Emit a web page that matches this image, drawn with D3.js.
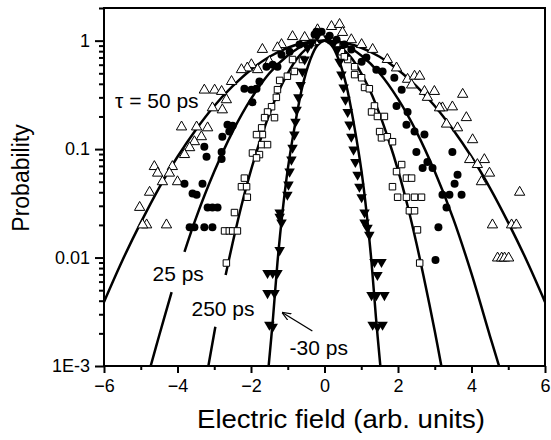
<!DOCTYPE html>
<html>
<head>
<meta charset="utf-8">
<script src="https://cdn.jsdelivr.net/npm/d3@7"></script>
<style>
  body { margin: 0; background: #fff; }
  svg { display: block; font-family: "Liberation Sans", Arial, sans-serif; }
</style>
</head>
<body>
<div id="chart"></div>
<script>
// measured points [field, probability]
const tau50 = [
  [-0.87,1.09],[-1.17,0.92],[-1.28,0.86],[-1.69,0.83],[-1.99,0.60],[-2.10,0.56],[-2.26,0.54],[-2.53,0.42],
  [-1.82,0.54],[-1.50,0.64],[-3.27,0.35],[-2.99,0.35],[-2.80,0.34],[-2.67,0.285],[-3.05,0.24],[-2.78,0.23],
  [-3.89,0.16],[-3.48,0.16],[-3.18,0.157],[-3.35,0.13],[-3.54,0.117],[-3.67,0.103],[-3.81,0.089],
  [-4.63,0.069],[-4.54,0.060],[-4.14,0.069],[-4.22,0.060],[-4.41,0.050],[-4.00,0.050],[-4.76,0.040],
  [-5.03,0.029],[-4.84,0.020],[-4.30,0.020],[-4.95,0.020],
  [0.19,1.35],[0.41,1.41],[0.49,1.19],[1.31,0.83],[1.71,0.67],[1.96,0.56],[2.26,0.44],[2.45,0.47],
  [2.59,0.47],[2.37,0.39],[2.72,0.34],[2.99,0.34],[2.80,0.30],[3.76,0.32],[3.21,0.24],[3.48,0.245],
  [3.13,0.24],[3.86,0.195],[3.32,0.17],[3.62,0.157],[4.03,0.122],[3.95,0.080],[4.35,0.080],[4.16,0.072],
  [4.49,0.060],[4.27,0.050],[5.31,0.040],[4.57,0.020],[5.09,0.020],[5.22,0.020],
  [4.71,0.0099],[4.82,0.0099],[4.90,0.0099],[5.01,0.0099],
  [-0.54,1.07],[-0.27,0.98],[0.73,1.02],[1.01,0.92],[-0.19,1.26]
];
const tau25 = [
  [-1.41,0.60],[-1.28,0.575],[-1.58,0.575],[-1.77,0.42],[-2.18,0.36],[-1.99,0.353],[-1.85,0.36],[-1.96,0.27],
  [-2.64,0.168],[-2.50,0.164],[-2.59,0.145],[-2.78,0.13],[-2.80,0.094],[-3.27,0.105],[-3.21,0.085],[-2.80,0.081],
  [-3.81,0.048],[-3.32,0.048],[-3.59,0.039],[-3.48,0.038],[-3.18,0.029],[-3.05,0.029],[-2.91,0.029],
  [-3.67,0.019],[-3.54,0.019],[-3.27,0.019],[-3.05,0.019],
  [-0.22,1.21],[1.01,0.64],[1.14,0.70],[1.41,0.54],[1.58,0.52],[1.90,0.455],[1.96,0.25],[2.10,0.353],
  [2.26,0.22],[2.23,0.168],[2.45,0.145],[2.72,0.136],[2.50,0.094],[3.48,0.094],[2.80,0.076],[2.67,0.067],
  [2.94,0.067],[3.62,0.058],[3.54,0.048],[3.21,0.038],[3.40,0.038],[3.73,0.038],[3.32,0.029],[3.10,0.019],
  [3.02,0.0095],
  [-0.27,1.14],[-0.08,1.21],[0.14,1.11],[0.33,1.02],[0.54,0.92],[0.73,0.83],[-0.68,0.92],[-0.95,0.79],[-1.17,0.74]
];
const tau250 = [
  [-0.87,0.67],[-0.82,0.52],[-1.01,0.47],[-1.22,0.43],[-1.28,0.353],[-1.31,0.30],[-1.44,0.246],[-1.55,0.22],
  [-1.63,0.195],[-1.36,0.195],[-1.71,0.157],[-1.69,0.136],[-1.85,0.136],[-1.71,0.110],[-1.55,0.110],
  [-1.96,0.092],[-1.77,0.089],[-1.85,0.083],[-2.18,0.054],[-2.26,0.045],[-2.12,0.045],[-2.10,0.036],
  [-2.45,0.026],[-2.72,0.0176],[-2.59,0.0176],[-2.50,0.0176],[-2.37,0.0176],[-2.67,0.0089],
  [-0.60,0.67],[0.63,0.67],[0.82,0.575],[0.82,0.486],[1.01,0.455],[1.09,0.37],[1.22,0.36],[1.36,0.25],
  [1.28,0.22],[1.44,0.20],[1.63,0.20],[1.50,0.145],[1.55,0.127],[1.71,0.13],[1.85,0.117],[2.10,0.072],
  [1.96,0.062],[2.23,0.054],[2.37,0.054],[1.85,0.045],[1.99,0.036],[2.23,0.036],[2.45,0.036],[2.64,0.036],
  [2.31,0.027],[2.45,0.027],[2.53,0.018],[2.59,0.0089],
  [-0.33,0.96],[0.33,0.94],[0.46,0.79],[0.54,0.71]
];
const tauMinus30 = [
  [-0.46,0.86],[-0.54,0.67],[-0.60,0.52],[-0.65,0.39],[-0.71,0.30],[-0.76,0.23],[-0.79,0.179],[-0.82,0.136],
  [-0.87,0.103],[-0.90,0.080],[-0.95,0.062],[-0.98,0.047],[-1.01,0.038],[-1.22,0.026],[-1.22,0.0237],
  [-1.17,0.021],[-1.22,0.0117],[-1.55,0.0072],[-1.41,0.0072],[-1.28,0.0072],[-1.55,0.0047],[-1.36,0.0047],
  [-1.50,0.0024],[-1.41,0.0023],
  [0.35,0.83],[0.41,0.64],[0.46,0.486],[0.52,0.37],[0.57,0.285],[0.63,0.22],[0.68,0.168],[0.73,0.13],
  [0.79,0.099],[0.84,0.076],[0.90,0.058],[0.95,0.045],[1.01,0.036],[1.09,0.026],[1.09,0.021],[1.17,0.0188],
  [1.22,0.0162],[1.36,0.0091],[1.55,0.0091],[1.44,0.0069],[1.28,0.0045],[1.41,0.0045],[1.63,0.0045],
  [1.31,0.0024],[1.44,0.0023],[1.58,0.0024],
  [-0.2,1.1],[0.1,1.05],[0.25,0.95],[-0.35,0.95]
];

// fitted curves, null = gap left for a label
const fit50 = [[-6,0.0039],[-5.5,0.0094],[-5,0.021],[-4.5,0.044],[-4,0.085],[-3.5,0.151],[-3,0.25],[-2.5,0.38],
  [-2,0.54],[-1.5,0.71],[-1,0.86],[-0.5,0.96],[0,1],[0.5,0.96],[1,0.86],[1.5,0.71],[2,0.54],[2.5,0.38],
  [3,0.25],[3.5,0.151],[4,0.085],[4.5,0.044],[5,0.021],[5.5,0.0094],[6,0.0039]];
const fit25 = [[-4.73,0.001],[-4.5,0.0019],[-4.16,0.0048],null,[-3.81,0.0113],[-3.5,0.023],[-3,0.062],[-2.5,0.145],
  [-2,0.29],[-1.5,0.5],[-1,0.73],[-0.5,0.93],[0,1],[0.5,0.93],[1,0.73],[1.5,0.5],[2,0.29],[2.5,0.145],
  [3,0.062],[3.5,0.023],[4,0.0071],[4.5,0.0019],[4.75,0.001]];
const fit250 = [[-3.16,0.001],[-2.97,0.0023],null,[-2.69,0.0069],[-2.5,0.0136],[-2.25,0.031],[-2,0.064],[-1.75,0.12],
  [-1.5,0.21],[-1.25,0.34],[-1,0.5],[-0.75,0.68],[-0.5,0.84],[-0.25,0.96],[0,1],[0.25,0.96],[0.5,0.84],
  [0.75,0.68],[1,0.5],[1.25,0.34],[1.5,0.21],[1.75,0.12],[2,0.064],[2.25,0.031],[2.5,0.0136],[2.75,0.0055],
  [3,0.0021],[3.18,0.001]];
const fitMinus30 = [[-1.52,0.001],[-1.4,0.0028],[-1.28,0.009],[-1.15,0.025],[-1,0.065],[-0.8,0.17],[-0.6,0.38],
  [-0.4,0.65],[-0.2,0.9],[0,1],[0.2,0.9],[0.4,0.65],[0.6,0.38],[0.8,0.17],[1,0.065],[1.15,0.025],[1.28,0.009],
  [1.4,0.0028],[1.52,0.001]];

const xMajor = [-6, -4, -2, 0, 2, 4, 6];
const xMinor = [-5, -3, -1, 1, 3, 5];
const yMajor = [0.001, 0.01, 0.1, 1];
const yMajorLabels = ["1E-3", "0.01", "0.1", "1"];

const width = 551, height = 440;
const mLeft = 104, mRight = 545, mTop = 8, mBottom = 366;

const svg = d3.select("#chart").append("svg")
  .attr("width", width).attr("height", height);

const x = d3.scaleLinear().domain([-6, 6]).range([mLeft, mRight]);
const y = d3.scaleLog().domain([0.001, 2]).range([mBottom, mTop]);

// minor log ticks 2..9 in every decade
const yMinor = [];
[0.001, 0.01, 0.1, 1].forEach(d => {
  for (let k = 2; k <= 9; k++) if (d * k <= 2) yMinor.push(d * k);
});

// curves
const line = d3.line()
  .defined(d => d !== null)
  .x(d => x(d[0])).y(d => y(d[1]))
  .curve(d3.curveCatmullRom);

svg.append("clipPath").attr("id", "clip")
  .append("rect").attr("x", mLeft).attr("y", mTop).attr("width", mRight - mLeft).attr("height", mBottom - mTop);

const plot = svg.append("g").attr("clip-path", "url(#clip)");

[fit50, fit25, fit250, fitMinus30].forEach(c => {
  plot.append("path").attr("d", line(c))
    .attr("fill", "none").attr("stroke", "#000").attr("stroke-width", 2.5);
});

// points
const triUp = d3.symbol().type(d3.symbolTriangle).size(46);
const triDown = d3.symbol().type(d3.symbolTriangle).size(48);
const square = d3.symbol().type(d3.symbolSquare).size(42);

plot.selectAll(".t50").data(tau50).enter().append("path")
  .attr("d", triUp)
  .attr("transform", d => `translate(${x(d[0])},${y(d[1])})`)
  .attr("fill", "#fff").attr("stroke", "#000").attr("stroke-width", 1);

plot.selectAll(".t250").data(tau250).enter().append("path")
  .attr("d", square)
  .attr("transform", d => `translate(${x(d[0])},${y(d[1])})`)
  .attr("fill", "#fff").attr("stroke", "#000").attr("stroke-width", 1);

plot.selectAll(".t25").data(tau25).enter().append("circle")
  .attr("cx", d => x(d[0])).attr("cy", d => y(d[1])).attr("r", 4)
  .attr("fill", "#000");

plot.selectAll(".tm30").data(tauMinus30).enter().append("path")
  .attr("d", triDown)
  .attr("transform", d => `translate(${x(d[0])},${y(d[1])}) rotate(180)`)
  .attr("fill", "#000");

// frame
svg.append("rect")
  .attr("x", mLeft).attr("y", mTop).attr("width", mRight - mLeft).attr("height", mBottom - mTop)
  .attr("fill", "none").attr("stroke", "#000").attr("stroke-width", 2);

// axes
svg.append("g").attr("transform", `translate(0,${mBottom})`)
  .call(d3.axisBottom(x).tickValues(xMajor).tickSize(7).tickPadding(6).tickFormat(d3.format("d")));
svg.append("g").attr("transform", `translate(0,${mBottom})`)
  .call(d3.axisBottom(x).tickValues(xMinor).tickSize(4).tickFormat(""));

svg.append("g").attr("transform", `translate(${mLeft},0)`)
  .call(d3.axisLeft(y).tickValues(yMajor).tickSize(9).tickPadding(5)
    .tickFormat((d, i) => yMajorLabels[i]));
svg.append("g").attr("transform", `translate(${mLeft},0)`)
  .call(d3.axisLeft(y).tickValues(yMinor).tickSize(5).tickFormat(""));

svg.selectAll(".domain").remove();
svg.selectAll(".tick line").attr("stroke", "#000").attr("stroke-width", 2);
svg.selectAll(".tick text").attr("font-size", 18).attr("fill", "#000")
  .attr("font-family", "Liberation Sans, Arial, sans-serif");

// axis titles
svg.append("text")
  .attr("x", 341).attr("y", 428)
  .attr("text-anchor", "middle").attr("font-size", 25)
  .attr("textLength", 288).attr("lengthAdjust", "spacingAndGlyphs")
  .text("Electric field (arb. units)");

svg.append("text")
  .attr("transform", "translate(29,178) rotate(-90)")
  .attr("text-anchor", "middle").attr("font-size", 23)
  .text("Probability");

// curve labels
const labels = [
  { t: "\u03c4 = 50 ps", x: -5.7, y: 0.24 },
  { t: "25 ps", x: -4.68, y: 0.0061 },
  { t: "250 ps", x: -3.62, y: 0.0029 },
  { t: "-30 ps", x: -0.95, y: 0.00126 }
];
svg.selectAll(".lab").data(labels).enter().append("text")
  .attr("x", d => x(d.x)).attr("y", d => y(d.y))
  .attr("font-size", 21)
  .text(d => d.t);

// arrow to the -30 ps curve
svg.append("defs").append("marker")
  .attr("id", "arrow").attr("viewBox", "0 0 10 10")
  .attr("refX", 9).attr("refY", 5)
  .attr("markerWidth", 7).attr("markerHeight", 7)
  .attr("orient", "auto")
  .append("path").attr("d", "M0,1 L10,5 L0,9").attr("fill", "none").attr("stroke", "#000").attr("stroke-width", 1.3);

svg.append("line")
  .attr("x1", x(-0.33)).attr("y1", y(0.0021))
  .attr("x2", x(-1.14)).attr("y2", y(0.0031))
  .attr("stroke", "#000").attr("stroke-width", 1.3)
  .attr("marker-end", "url(#arrow)");
</script>
</body>
</html>
